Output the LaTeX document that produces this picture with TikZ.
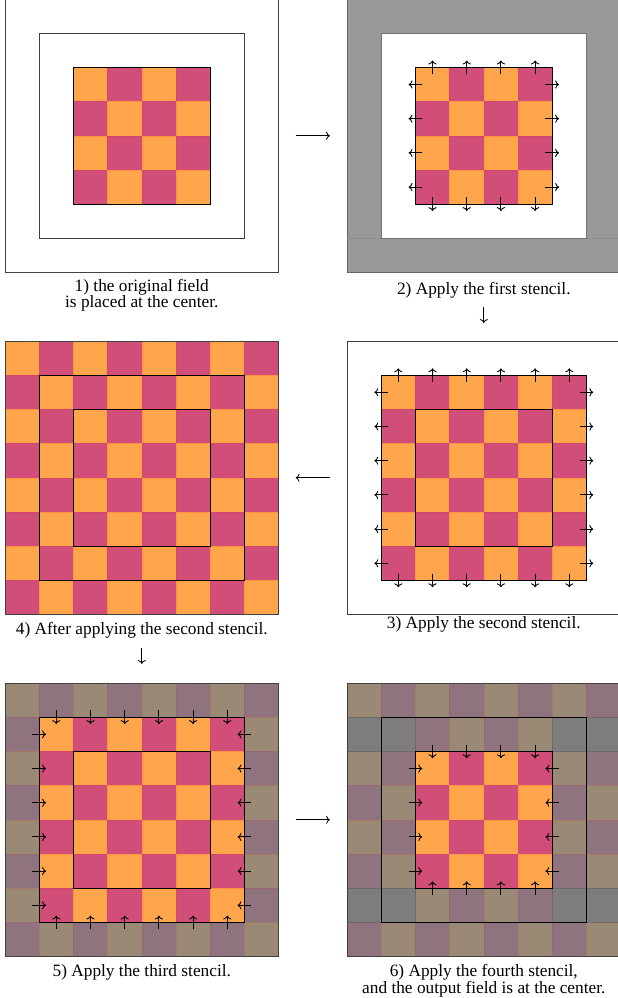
\documentclass[tikz,border=0pt]{standalone}
\usepackage{fontspec}
\setmainfont{Liberation Serif}
\usepackage{tikz}
\usetikzlibrary{positioning, arrows.meta}

\definecolor{cellor}{HTML}{FFA54B}
\definecolor{cellma}{HTML}{D14E79}
\definecolor{fadeor}{HTML}{9A8A75}
\definecolor{fadema}{HTML}{8F7480}
\definecolor{fadegr}{HTML}{7F7C7C}
\definecolor{haloc}{HTML}{999999}

\tikzset{
  panel/.style={draw=black!75, line width=0.5pt, minimum size=8cm, inner sep=0pt, outer sep=0pt},
  frame/.style={draw=black!75, line width=0.5pt},
  outline/.style={draw=black, line width=0.8pt},
  stencil/.style={->, line width=0.75pt},
  flow/.style={->, line width=0.7pt},
  caption/.style={font=\fontsize{14.4}{14}\selectfont, anchor=base, inner sep=0pt},
}

% checker cells: origin x, origin y, first index, last index, even colour, odd colour
\newcommand{\checker}[6]{%
  \foreach \i in {#3,...,#4}{
    \foreach \j in {#3,...,#4}{
      \pgfmathtruncatemacro{\cpar}{mod(\i+\j,2)}
      \ifnum\cpar=0 \def\cfill{#5}\else \def\cfill{#6}\fi
      \filldraw[fill=\cfill, draw=\cfill!88!red, line width=0.3pt] (#1+\i,#2-\j) rectangle ++(1,-1);
    }}}

% stencil arrows round an n x n block, pointing out / pointing in
\newcommand{\outarrows}[3]{%
  \foreach \k in {1,...,#3}{
    \draw[stencil] (#1+\k-0.5,#2-0.2) -- ++(0,0.4);
    \draw[stencil] (#1+\k-0.5,#2-#3+0.2) -- ++(0,-0.4);
    \draw[stencil] (#1+0.2,#2-\k+0.5) -- ++(-0.4,0);
    \draw[stencil] (#1+#3-0.2,#2-\k+0.5) -- ++(0.4,0);
  }}
\newcommand{\inarrows}[3]{%
  \foreach \k in {1,...,#3}{
    \draw[stencil] (#1+\k-0.5,#2+0.2) -- ++(0,-0.4);
    \draw[stencil] (#1+\k-0.5,#2-#3-0.2) -- ++(0,0.4);
    \draw[stencil] (#1-0.2,#2-\k+0.5) -- ++(0.4,0);
    \draw[stencil] (#1+#3+0.2,#2-\k+0.5) -- ++(-0.4,0);
  }}

\begin{document}
\begin{tikzpicture}
  \useasboundingbox (-0.146,-0.03) rectangle (17.895,-29.21);

  % 1) original field
  \node[panel] (p1) at (4,-4) {};
  \draw[frame] (1,-1) rectangle (7,-7);
  \checker{0}{0}{2}{5}{cellor}{cellma}
  \draw[outline] (2,-2) rectangle (6,-6);
  \node[caption] (c1a) at ([yshift=-0.54cm]p1.south) {1) the original field};
  \node[caption] (c1b) at ([yshift=-1.03cm]p1.south) {is placed at the center.};

  % 2) first stencil
  \node[panel, fill=haloc, draw=black!60] (p2) [right=2cm of p1] {};
  \draw[black!45, line width=0.4pt] (p2.west |- 0,-7) -- (p2.east |- 0,-7);
  \filldraw[fill=white, draw=black!55, line width=0.5pt] (11,-1) rectangle (17,-7);
  \checker{10}{0}{2}{5}{cellor}{cellma}
  \draw[outline] (12,-2) rectangle (16,-6);
  \outarrows{12}{-2}{4}
  \node[caption] (c2) at ([yshift=-0.65cm]p2.south) {2) Apply the first stencil.};

  % 3) second stencil
  \node[panel] (p3) [below=2cm of p2] {};
  \checker{10}{-10}{1}{6}{cellor}{cellma}
  \draw[outline] (11,-11) rectangle (17,-17);
  \draw[outline] (12,-12) rectangle (16,-16);
  \outarrows{11}{-11}{6}
  \node[caption] (c3) at ([yshift=-0.4cm]p3.south) {3) Apply the second stencil.};

  % 4) after second stencil
  \checker{0}{-10}{0}{7}{cellor}{cellma}
  \node[panel] (p4) [left=2cm of p3] {};
  \draw[outline] (1,-11) rectangle (7,-17);
  \draw[outline] (2,-12) rectangle (6,-16);
  \node[caption] (c4) at ([yshift=-0.57cm]p4.south) {4) After applying the second stencil.};

  % 5) third stencil
  \checker{0}{-20}{0}{7}{fadeor}{fadema}
  \checker{0}{-20}{1}{6}{cellor}{cellma}
  \node[panel] (p5) [below=2cm of p4] {};
  \draw[outline] (1,-21) rectangle (7,-27);
  \draw[outline] (2,-22) rectangle (6,-26);
  \inarrows{1}{-21}{6}
  \node[caption] (c5) at ([yshift=-0.59cm]p5.south) {5) Apply the third stencil.};

  % 6) fourth stencil
  \checker{10}{-20}{0}{7}{fadeor}{fadema}
  \foreach \i in {0,1,6,7}
    \foreach \j in {1,6}
      \filldraw[fill=fadegr, draw=fadegr!85!black, line width=0.3pt] (10+\i,-20-\j) rectangle ++(1,-1);
  \checker{10}{-20}{2}{5}{cellor}{cellma}
  \node[panel] (p6) [right=2cm of p5] {};
  \draw[outline] (11,-21) rectangle (17,-27);
  \draw[outline] (12,-22) rectangle (16,-26);
  \inarrows{12}{-22}{4}
  \node[caption] (c6a) at ([yshift=-0.59cm]p6.south) {6) Apply the fourth stencil,};
  \node[caption] (c6b) at ([yshift=-1.08cm]p6.south) {and the output field is at the center.};

  % steps
  \draw[flow, shorten <=0.5cm, shorten >=0.5cm] (p1) -- (p2);
  \draw[flow, shorten <=1.0cm, shorten >=0.53cm] (p2) -- (p3);
  \draw[flow, shorten <=0.5cm, shorten >=0.5cm] (p3) -- (p4);
  \draw[flow, shorten <=0.98cm, shorten >=0.56cm] (p4) -- (p5);
  \draw[flow, shorten <=0.5cm, shorten >=0.5cm] (p5) -- (p6);
\end{tikzpicture}
\end{document}
